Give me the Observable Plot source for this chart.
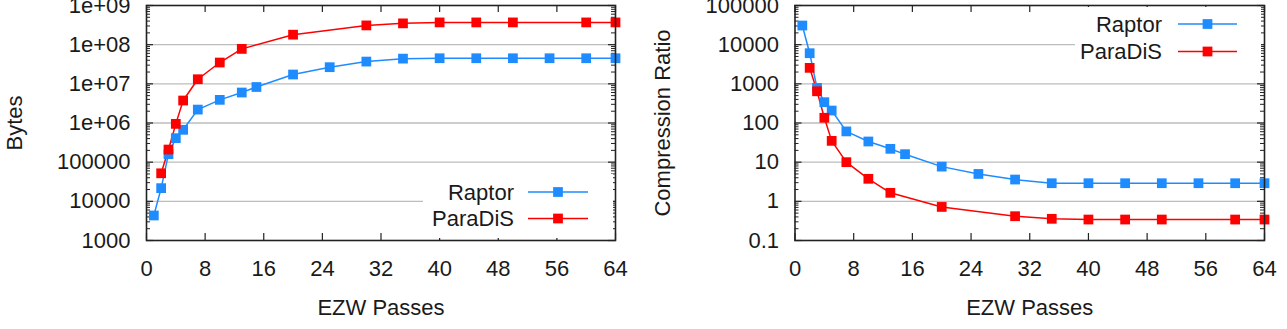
<!DOCTYPE html>
<html>
<head>
<meta charset="utf-8">
<script src="https://cdn.jsdelivr.net/npm/d3@7"></script>
<script src="https://cdn.jsdelivr.net/npm/@observablehq/plot@0.6"></script>
<style>
  html, body { margin: 0; padding: 0; background: #fff; }
  body { width: 1287px; height: 329px; position: relative; overflow: hidden; font-family: "Liberation Sans", Arial, sans-serif; }
  .panel { position: absolute; top: 0; }
  .legend { position: absolute; background: #fff; }
</style>
</head>
<body>
<div id="left" class="panel" style="left:0px"></div>
<div id="right" class="panel" style="left:645px"></div>
<script>
// ---- data ----
const seriesNames = ["Raptor", "ParaDiS"];
const seriesColors = ["#1e8cff", "#ff0000"];

const passesRaptor = [1, 2, 3, 4, 5, 7, 10, 13, 15, 20, 25, 30, 35, 40, 45, 50, 55, 60, 64];
const bytesRaptor = [4350, 21700, 160000, 410000, 670000, 2.2e6, 3.9e6, 6.0e6, 8.3e6, 1.73e7, 2.66e7, 3.7e7, 4.4e7, 4.5e7, 4.5e7, 4.5e7, 4.5e7, 4.5e7, 4.5e7];
const ratioRaptor = [30800, 6050, 790, 340, 208, 61, 33.7, 21.9, 16, 7.7, 5.0, 3.6, 2.9, 2.9, 2.9, 2.9, 2.9, 2.9, 2.9];

const passesParadis = [2, 3, 4, 5, 7, 10, 13, 20, 30, 35, 40, 45, 50, 60, 64];
const bytesParadis = [52000, 210000, 950000, 3.75e6, 1.31e7, 3.5e7, 7.8e7, 1.8e8, 3.1e8, 3.5e8, 3.7e8, 3.7e8, 3.7e8, 3.7e8, 3.7e8];
const ratioParadis = [2560, 645, 136, 35, 10, 3.76, 1.65, 0.72, 0.417, 0.358, 0.343, 0.343, 0.343, 0.343, 0.343];

const xTicks = [0, 8, 16, 24, 32, 40, 48, 56, 64];
const xTickLabels = ["0", "8", "16", "24", "32", "40", "48", "56", "64"];
const bytesTicks = [1e3, 1e4, 1e5, 1e6, 1e7, 1e8, 1e9];
const bytesTickLabels = ["1000", "10000", "100000", "1e+06", "1e+07", "1e+08", "1e+09"];
const ratioTicks = [0.1, 1, 10, 100, 1000, 10000, 100000];
const ratioTickLabels = ["0.1", "1", "10", "100", "1000", "10000", "100000"];

const xLabel = "EZW Passes";
const bytesLabel = "Bytes";
const ratioLabel = "Compression Ratio";

// ---- helpers ----
const FONT = 22;
const TEXT = "#1a1a1a";
const yLabelX = {"Bytes": 14, "Compression Ratio": 17};

function rows(name, xs, ys) {
  return xs.map((x, i) => ({series: name, x, y: ys[i]}));
}

function panel({width, marginLeft, marginRight, yTicks, yTickLabels, yLabel, data}) {
  const height = 329, marginTop = 5, marginBottom = 89;
  const W = width - marginLeft - marginRight;
  const H = height - marginTop - marginBottom;
  const minor = [];
  for (let i = 0; i < yTicks.length - 1; i++) for (let k = 2; k <= 9; k++) minor.push(yTicks[i] * k);
  const yMap = new Map(yTicks.map((t, i) => [t, yTickLabels[i]]));
  const xMap = new Map(xTicks.map((t, i) => [t, xTickLabels[i]]));
  const grid = yTicks.slice(1, -1);
  const majLen = 7, minLen = 4;
  return Plot.plot({
    width, height, marginLeft, marginRight, marginTop, marginBottom,
    style: {fontFamily: '"Liberation Sans", Arial, sans-serif', fontSize: FONT + "px", color: TEXT, background: "#fff", overflow: "visible"},
    x: {domain: [0, 64]},
    y: {type: "log", domain: [yTicks[0], yTicks[yTicks.length - 1]]},
    color: {domain: seriesNames, range: seriesColors},
    marks: [
      Plot.ruleY(grid, {stroke: "#bdbdbd", strokeWidth: 1.4}),
      // inward major ticks (left / right)
      Plot.tickY(yTicks, {y: d => d, insetRight: W - majLen, stroke: "#222", strokeWidth: 1.2}),
      Plot.tickY(yTicks, {y: d => d, insetLeft: W - majLen, stroke: "#222", strokeWidth: 1.2}),
      Plot.tickY(minor, {y: d => d, insetRight: W - minLen, stroke: "#222", strokeWidth: 1}),
      Plot.tickY(minor, {y: d => d, insetLeft: W - minLen, stroke: "#222", strokeWidth: 1}),
      // inward x ticks (bottom / top)
      Plot.tickX(xTicks, {x: d => d, insetTop: H - majLen, stroke: "#222", strokeWidth: 1.2}),
      Plot.tickX(xTicks, {x: d => d, insetBottom: H - majLen, stroke: "#222", strokeWidth: 1.2}),
      Plot.axisX({ticks: xTicks, tickFormat: d => xMap.get(d), tickSize: 0, tickPadding: 20, label: null, fontSize: FONT}),
      Plot.axisY({ticks: yTicks, tickFormat: d => yMap.get(d), tickSize: 0, tickPadding: 16, label: null, fontSize: FONT}),
      Plot.line(data, {x: "x", y: "y", stroke: "series", z: "series", strokeWidth: 1.5}),
      Plot.dot(data, {x: "x", y: "y", fill: "series", symbol: "square", r: 5.5}),
      Plot.frame({stroke: "#222", strokeWidth: 1.6}),
      Plot.text([xLabel], {frameAnchor: "bottom", dy: 67, lineAnchor: "middle", textAnchor: "middle", fontSize: FONT, fill: TEXT}),
      Plot.text([yLabel], {frameAnchor: "left", dx: -(marginLeft - yLabelX[yLabel]), textAnchor: "middle", lineAnchor: "middle", rotate: -90, fontSize: FONT, fill: TEXT})
    ]
  });
}

function legend(container, {left, top, width, height, textRight, rowY, lineX1, lineX2}) {
  const div = document.createElement("div");
  div.className = "legend";
  div.style.left = left + "px"; div.style.top = top + "px";
  div.style.width = width + "px"; div.style.height = height + "px";
  const svg = d3.create("svg").attr("width", width).attr("height", height)
    .style("font-family", '"Liberation Sans", Arial, sans-serif').style("font-size", FONT + "px");
  seriesNames.forEach((name, i) => {
    const y = rowY[i];
    svg.append("text").attr("x", textRight).attr("y", y).attr("dy", "0.35em")
      .attr("text-anchor", "end").attr("fill", TEXT).text(name);
    svg.append("line").attr("x1", lineX1).attr("x2", lineX2).attr("y1", y).attr("y2", y)
      .attr("stroke", seriesColors[i]).attr("stroke-width", 1.5);
    const mx = (lineX1 + lineX2) / 2, s = 9.75;
    svg.append("rect").attr("x", mx - s / 2).attr("y", y - s / 2).attr("width", s).attr("height", s)
      .attr("fill", seriesColors[i]);
  });
  div.appendChild(svg.node());
  container.appendChild(div);
}

const leftData = [...rows("Raptor", passesRaptor, bytesRaptor), ...rows("ParaDiS", passesParadis, bytesParadis)];
const rightData = [...rows("Raptor", passesRaptor, ratioRaptor), ...rows("ParaDiS", passesParadis, ratioParadis)];

const leftEl = document.getElementById("left");
const rightEl = document.getElementById("right");
leftEl.appendChild(panel({width: 640, marginLeft: 146, marginRight: 25, yTicks: bytesTicks, yTickLabels: bytesTickLabels, yLabel: bytesLabel, data: leftData}));
rightEl.appendChild(panel({width: 642, marginLeft: 149.5, marginRight: 23, yTicks: ratioTicks, yTickLabels: ratioTickLabels, yLabel: ratioLabel, data: rightData}));

// legends (white boxes over the grid, as in the reference)
legend(leftEl, {left: 423, top: 174, width: 190, height: 64, textRight: 91, rowY: [18, 44.5], lineX1: 105, lineX2: 165});
legend(rightEl, {left: 1075 - 645, top: 7, width: 186, height: 60, textRight: 87, rowY: [17, 44.5], lineX1: 103, lineX2: 162});
</script>
</body>
</html>
